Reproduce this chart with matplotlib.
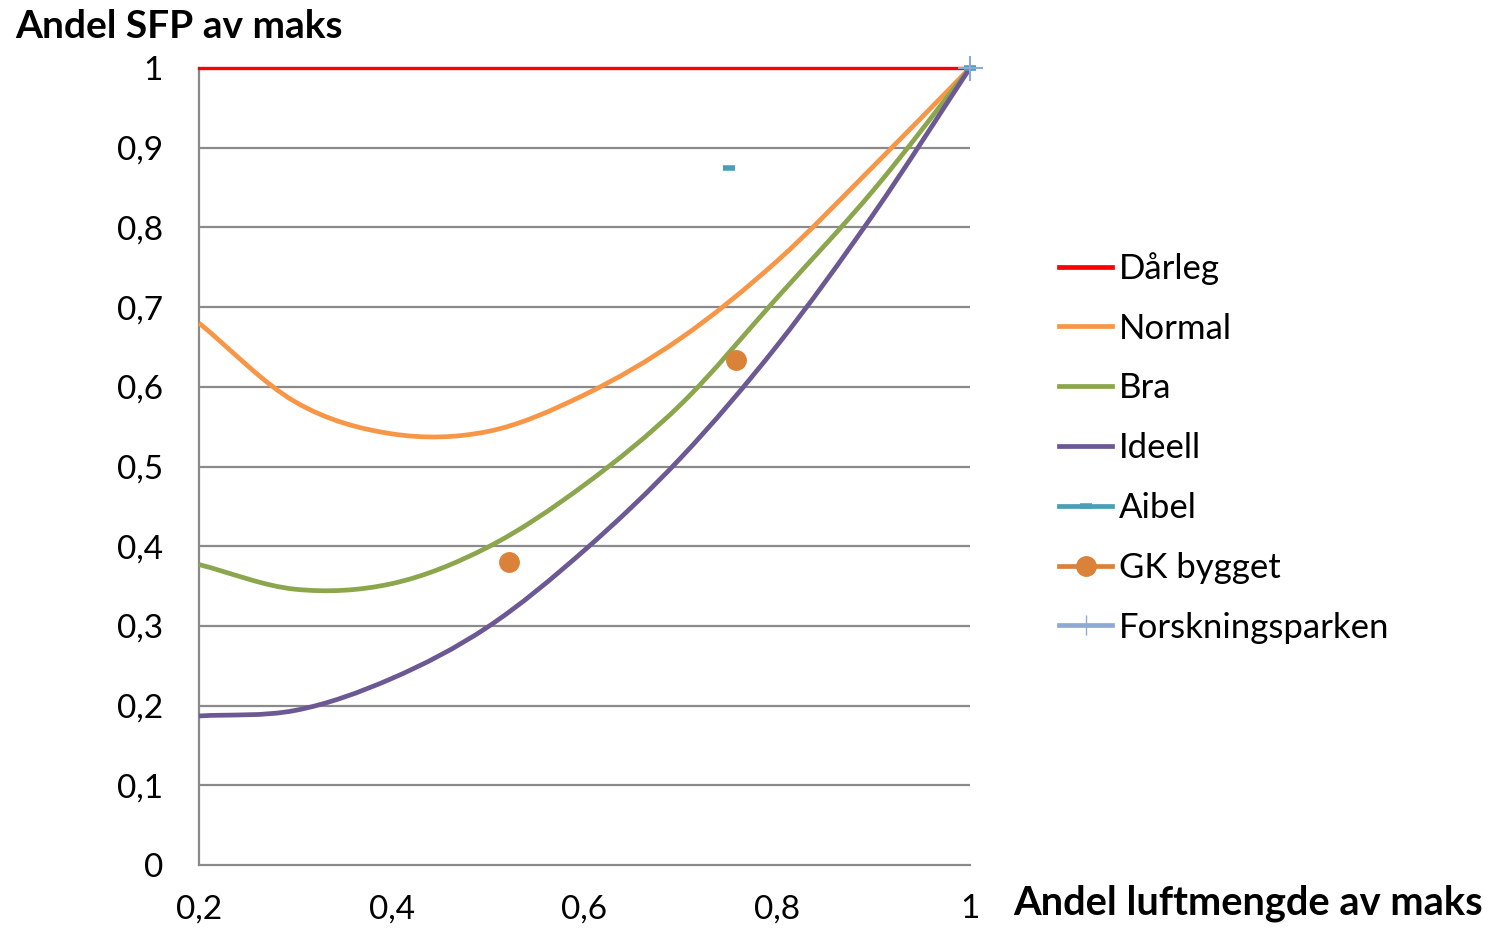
import numpy as np
import matplotlib
matplotlib.use('Agg')
from matplotlib import pyplot as plt
from matplotlib.path import Path
from matplotlib.patches import PathPatch
from matplotlib.lines import Line2D

plt.rcParams['font.family'] = ['Lato', 'DejaVu Sans']

'data read off the chart'
x = [0.2, 0.3, 0.4, 0.5, 0.6, 0.7, 0.8, 0.9, 1.0]
darleg = [1.0, 1.0, 1.0, 1.0, 1.0, 1.0, 1.0, 1.0, 1.0]
normal = [0.680, 0.581, 0.541, 0.544, 0.590, 0.661, 0.758, 0.877, 1.0]
bra = [0.377, 0.346, 0.353, 0.399, 0.477, 0.578, 0.712, 0.847, 1.0]
ideell = [0.187, 0.194, 0.234, 0.299, 0.395, 0.511, 0.652, 0.817, 1.0]

aibel_x = [0.75, 1.0]
aibel_y = [0.875, 1.0]
gk_x = [0.522, 0.757]
gk_y = [0.380, 0.633]
fp_x = [1.0]
fp_y = [1.0]

xticks = [0.2, 0.4, 0.6, 0.8, 1.0]
xticklabels = ['0,2', '0,4', '0,6', '0,8', '1']
yticks = [0, 0.1, 0.2, 0.3, 0.4, 0.5, 0.6, 0.7, 0.8, 0.9, 1.0]
yticklabels = ['0', '0,1', '0,2', '0,3', '0,4', '0,5', '0,6', '0,7', '0,8', '0,9', '1']

c_red = '#FF0000'
c_normal = '#F79646'
c_bra = '#8BA64C'
c_ideell = '#6C5893'
c_aibel = '#4A9EB8'
c_gk = '#DB823A'
c_fp = '#8EA9D6'
grid_c = '#8A8A8A'


def smooth_path(xs, ys):
    'excel style smoothed line through the points'
    pts = np.column_stack([xs, ys])
    n = len(pts)
    # reflected end points so the ends follow the first / last chord
    pts = np.vstack([2 * pts[0] - pts[1], pts, 2 * pts[-1] - pts[-2]])
    verts = [pts[1]]
    codes = [Path.MOVETO]
    for i in range(1, n):
        p0, p1, p2, p3 = pts[i - 1], pts[i], pts[i + 1], pts[i + 2]
        verts += [p1 + (p2 - p0) / 6, p2 - (p3 - p1) / 6, p2]
        codes += [Path.CURVE4] * 3
    return Path(verts, codes)


fig = plt.figure(figsize=(14.91, 9.30), dpi=100)
ax = fig.add_axes([199 / 1491, 1 - 865 / 930, (970 - 199) / 1491, (865 - 68) / 930])

ax.set_xlim(0.2, 1.0)
ax.set_ylim(0, 1.0)
ax.set_yticks(yticks)
ax.set_yticklabels(yticklabels)
ax.set_xticks(xticks)
ax.set_xticklabels(xticklabels)
ax.tick_params(axis='both', length=0, labelsize=24, colors='black')
ax.tick_params(axis='y', pad=26)
ax.tick_params(axis='x', pad=21)

for y in yticks[1:]:
    ax.axhline(y, color=grid_c, lw=1.6, zorder=1)
for s in ['top', 'right']:
    ax.spines[s].set_visible(False)
for s in ['left', 'bottom']:
    ax.spines[s].set_color(grid_c)
    ax.spines[s].set_linewidth(1.6)

ax.plot(x, darleg, color=c_red, lw=2.4, zorder=3, clip_on=False)
for ys, c in [(normal, c_normal), (bra, c_bra), (ideell, c_ideell)]:
    ax.add_patch(PathPatch(smooth_path(x, ys), facecolor='none', edgecolor=c,
                           lw=3.4, zorder=3, clip_on=False))

ax.plot(aibel_x, aibel_y, ls='none', marker='_', ms=9, mew=4, color=c_aibel,
        zorder=5, clip_on=False)
ax.plot(gk_x, gk_y, ls='none', marker='o', ms=14, color=c_gk, zorder=5)
ax.plot(fp_x, fp_y, ls='none', marker='+', ms=18, mew=1.5, color=c_fp,
        zorder=6, clip_on=False)

handles = [
    Line2D([], [], color=c_red, lw=3.4),
    Line2D([], [], color=c_normal, lw=3.4),
    Line2D([], [], color=c_bra, lw=3.4),
    Line2D([], [], color=c_ideell, lw=3.4),
    Line2D([], [], color=c_aibel, lw=3.4, marker='_', ms=9, mew=4),
    Line2D([], [], color=c_gk, lw=3.4, marker='o', ms=14),
    Line2D([], [], color=c_fp, lw=3.4, marker='+', ms=14, mew=1),
]
labels = ['Dårleg', 'Normal', 'Bra', 'Ideell', 'Aibel', 'GK bygget', 'Forskningsparken']
fig.legend(handles, labels, loc='upper left', bbox_to_anchor=(1059 / 1491, 1 - 252 / 930),
           frameon=False, fontsize=25, handlelength=1.53, handletextpad=0.2,
           labelspacing=0.8, borderpad=0, borderaxespad=0)

fig.text(15 / 1491, 1 - 27 / 930, 'Andel SFP av maks', fontsize=28, fontweight='bold',
         ha='left', va='center')
fig.text(1483 / 1491, 1 - 903 / 930, 'Andel luftmengde av maks', fontsize=28.7,
         fontweight='bold', ha='right', va='center')

fig.savefig('out.png', dpi=100)
